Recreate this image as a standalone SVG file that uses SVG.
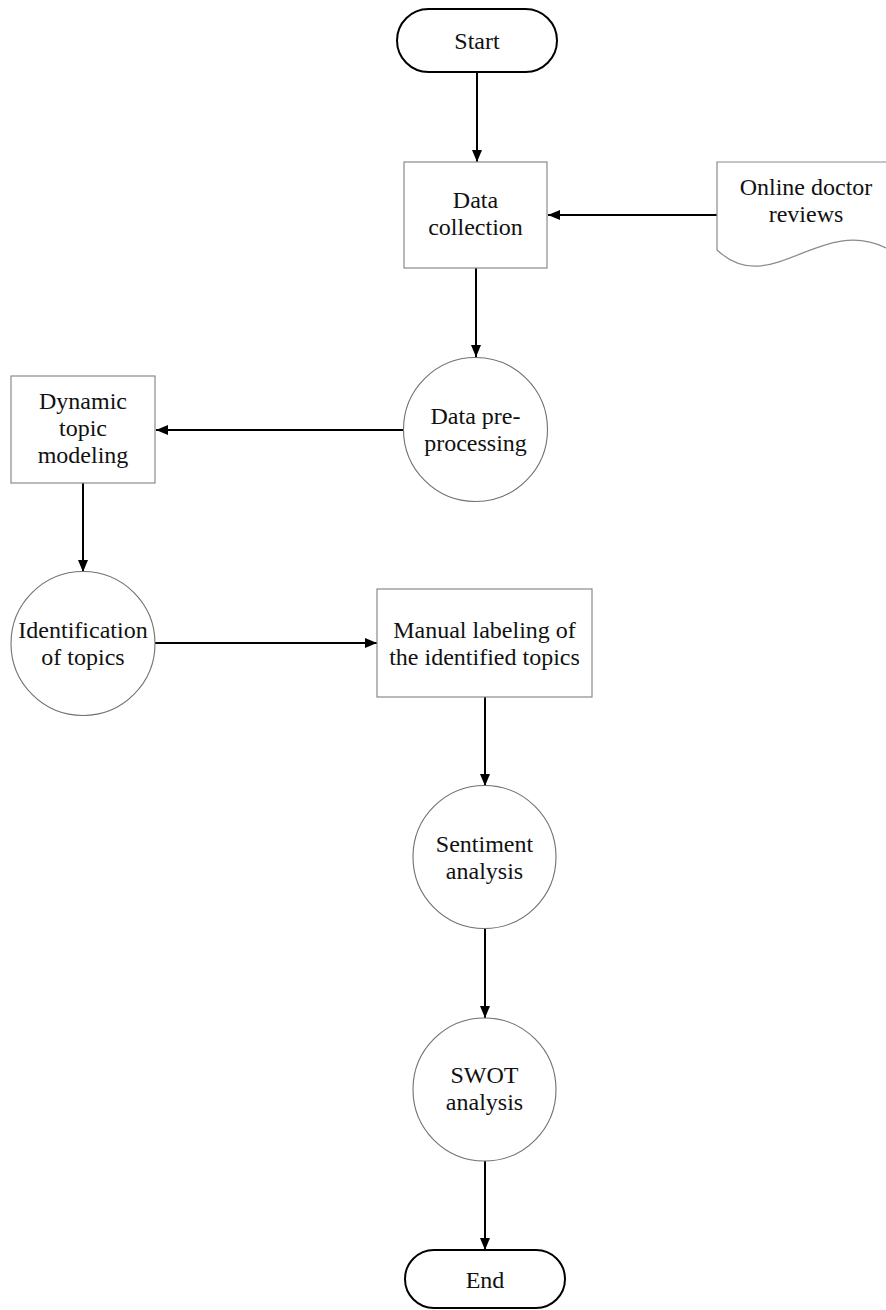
<svg xmlns="http://www.w3.org/2000/svg" width="886" height="1310" viewBox="0 0 886 1310">
<defs>
<marker id="ah" viewBox="0 0 12 10" refX="12" refY="5" markerWidth="12" markerHeight="10" markerUnits="userSpaceOnUse" orient="auto">
<path d="M0,0 L12,5 L0,10 Z" fill="#000"/>
</marker>
</defs>
<style>
.t{font-family:"Liberation Serif","Times New Roman",serif;font-size:24px;fill:#111;text-anchor:middle}
.term{fill:#fff;stroke:#000;stroke-width:2}
.box{fill:#fff;stroke:#8a8a8a;stroke-width:1.2}
.circ{fill:#fff;stroke:#707070;stroke-width:1.1}
.c{fill:none;stroke:#000;stroke-width:2;marker-end:url(#ah)}
</style>
<rect width="886" height="1310" fill="#fff"/>
<g id="connectors">
<line class="c" x1="477" y1="72" x2="477" y2="162"/>
<line class="c" x1="717" y1="215" x2="548" y2="215"/>
<line class="c" x1="476" y1="268" x2="476" y2="357"/>
<line class="c" x1="404" y1="430" x2="156" y2="430"/>
<line class="c" x1="83" y1="483" x2="83" y2="572"/>
<line class="c" x1="155" y1="643" x2="377" y2="643"/>
<line class="c" x1="485" y1="697" x2="485" y2="786"/>
<line class="c" x1="485" y1="928" x2="485" y2="1018"/>
<line class="c" x1="485" y1="1161" x2="485" y2="1250"/>
</g>
<g id="start">
<rect class="term" x="397" y="9" width="160" height="63" rx="31.5" ry="31.5"/>
<text class="t" x="477" y="49">Start</text>
</g>
<g id="data-collection">
<rect class="box" x="404" y="162" width="143" height="106"/>
<text class="t" x="475.5" y="208">Data</text>
<text class="t" x="475.5" y="235">collection</text>
</g>
<g id="online-reviews">
<path class="box" d="M717,250 L717,162 L890,162 L890,248 L886,248 C820,215 770,300 717,250 Z"/>
<text class="t" x="806" y="195">Online doctor</text>
<text class="t" x="806" y="222">reviews</text>
</g>
<g id="data-preprocessing">
<circle class="circ" cx="475.5" cy="429.5" r="72"/>
<text class="t" x="475.5" y="424">Data pre-</text>
<text class="t" x="475.5" y="451">processing</text>
</g>
<g id="dynamic-topic-modeling">
<rect class="box" x="11" y="376" width="144" height="107"/>
<text class="t" x="83" y="409">Dynamic</text>
<text class="t" x="83" y="436">topic</text>
<text class="t" x="83" y="463">modeling</text>
</g>
<g id="identification">
<circle class="circ" cx="83" cy="643.5" r="72"/>
<text class="t" x="83" y="638">Identification</text>
<text class="t" x="83" y="665">of topics</text>
</g>
<g id="manual-labeling">
<rect class="box" x="377" y="589" width="215" height="108"/>
<text class="t" x="484.5" y="638">Manual labeling of</text>
<text class="t" x="484.5" y="665">the identified topics</text>
</g>
<g id="sentiment">
<circle class="circ" cx="484.5" cy="857" r="71.5"/>
<text class="t" x="484.5" y="852">Sentiment</text>
<text class="t" x="484.5" y="879">analysis</text>
</g>
<g id="swot">
<circle class="circ" cx="484.5" cy="1089.5" r="71.5"/>
<text class="t" x="484.5" y="1083">SWOT</text>
<text class="t" x="484.5" y="1110">analysis</text>
</g>
<g id="end">
<rect class="term" x="405" y="1250" width="160" height="58" rx="29" ry="29"/>
<text class="t" x="485" y="1288">End</text>
</g>
</svg>
